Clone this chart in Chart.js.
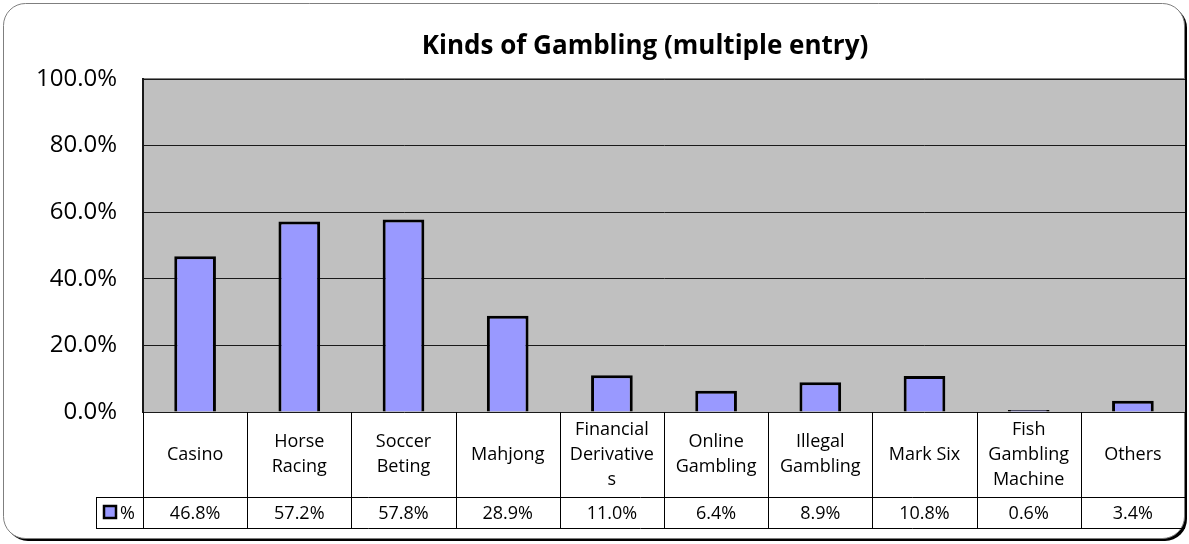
<!DOCTYPE html>
<html>
<head>
<meta charset="utf-8">
<script src="https://cdn.jsdelivr.net/npm/chart.js@4/dist/chart.umd.min.js"></script>
<style>
  html, body { margin: 0; padding: 0; background: #fff; }
  #wrap { width: 1189px; height: 544px; position: relative; }
</style>
</head>
<body>
<div id="wrap"><canvas id="chart"></canvas></div>
<script>
const title = 'Kinds of Gambling (multiple entry)';
const categories = [
  ['Casino'], ['Horse', 'Racing'], ['Soccer', 'Beting'], ['Mahjong'],
  ['Financial', 'Derivative', 's'], ['Online', 'Gambling'], ['Illegal', 'Gambling'],
  ['Mark Six'], ['Fish', 'Gambling', 'Machine'], ['Others']
];
const seriesName = '%';
const values = [46.8, 57.2, 57.8, 28.9, 11.0, 6.4, 8.9, 10.8, 0.6, 3.4];
const yTicks = [0, 20, 40, 60, 80, 100];

const FONT = '"Open Sans", "Noto Sans", sans-serif';
const BAR = '#9999FF';

// frame, plot background and the data table under the plot
const backdrop = {
  id: 'backdrop',
  beforeDraw(chart) {
    const ctx = chart.ctx;
    const a = chart.chartArea;
    ctx.save();
    ctx.fillStyle = '#000';
    ctx.beginPath();
    ctx.roundRect(6, 6, 1181, 535, 22);
    ctx.fill();
    ctx.fillStyle = '#fff';
    ctx.strokeStyle = '#7f7f7f';
    ctx.lineWidth = 1;
    ctx.beginPath();
    ctx.roundRect(3.5, 3.5, 1181, 535, 22);
    ctx.fill();
    ctx.stroke();
    ctx.fillStyle = '#C0C0C0';
    ctx.fillRect(a.left, a.top, a.right - a.left, a.bottom - a.top);
    ctx.strokeStyle = '#808080';
    ctx.lineWidth = 2;
    ctx.beginPath();
    ctx.moveTo(a.left, a.top);
    ctx.lineTo(a.right, a.top);
    ctx.stroke();
    ctx.restore();
  },
  afterDraw(chart) {
    const ctx = chart.ctx;
    const a = chart.chartArea;
    const x = chart.scales.x;
    const n = categories.length;
    const half = (x.getPixelForValue(1) - x.getPixelForValue(0)) / 2;
    const edges = [];
    for (let i = 0; i < n; i++) edges.push(x.getPixelForValue(i) - half);
    edges.push(x.getPixelForValue(n - 1) + half);
    const rowTop = a.bottom, rowMid = 497, rowBot = 528, keyLeft = 96;

    ctx.save();
    // title
    ctx.fillStyle = '#000';
    ctx.font = 'bold 26px ' + FONT;
    ctx.textAlign = 'center';
    ctx.textBaseline = 'middle';
    ctx.fillText(title, 645, 47);

    // table lines
    ctx.strokeStyle = '#000';
    ctx.lineWidth = 1;
    ctx.beginPath();
    for (let i = 0; i < n; i++) {
      const ex = Math.round(edges[i]) + 0.5;
      ctx.moveTo(ex, rowTop);
      ctx.lineTo(ex, rowBot);
    }
    ctx.moveTo(keyLeft, rowMid + 0.5);
    ctx.lineTo(edges[n], rowMid + 0.5);
    ctx.moveTo(keyLeft, rowBot + 0.5);
    ctx.lineTo(edges[n], rowBot + 0.5);
    ctx.moveTo(keyLeft + 0.5, rowMid);
    ctx.lineTo(keyLeft + 0.5, rowBot);
    ctx.stroke();

    // category labels and values
    ctx.font = '18px ' + FONT;
    const lh = 25;
    for (let i = 0; i < n; i++) {
      const cx = x.getPixelForValue(i);
      const lines = categories[i];
      const cy = (rowTop + rowMid) / 2 - (lines.length - 1) * lh / 2;
      lines.forEach((t, k) => ctx.fillText(t, cx, cy + k * lh));
      ctx.fillText(values[i].toFixed(1) + '%', cx, (rowMid + rowBot) / 2 + 1);
    }

    // legend key
    ctx.fillStyle = BAR;
    ctx.fillRect(104, 506, 12, 12);
    ctx.strokeStyle = '#000';
    ctx.lineWidth = 2.5;
    ctx.strokeRect(104, 506, 12, 12);
    ctx.fillStyle = '#000';
    ctx.textAlign = 'left';
    ctx.fillText(seriesName, 120, (rowMid + rowBot) / 2 + 1);
    ctx.restore();
  }
};

new Chart(document.getElementById('chart'), {
  type: 'bar',
  data: {
    labels: categories,
    datasets: [{
      label: seriesName,
      data: values,
      backgroundColor: BAR,
      borderColor: '#000',
      borderWidth: 3,
      barPercentage: 0.4,
      categoryPercentage: 1.0
    }]
  },
  options: {
    responsive: true,
    maintainAspectRatio: false,
    animation: false,
    layout: { padding: { left: 0, right: 4, top: 79, bottom: 132 } },
    plugins: {
      legend: { display: false },
      title: { display: false },
      tooltip: { enabled: false }
    },
    scales: {
      x: {
        display: false
      },
      y: {
        min: 0,
        max: 100,
        afterFit(s) { s.width = 143; },
        afterBuildTicks(s) { s.ticks = yTicks.map(v => ({ value: v })); },
        ticks: {
          color: '#000',
          padding: 26,
          font: { size: 24, family: FONT },
          callback: v => v.toFixed(1) + '%'
        },
        grid: { color: '#1a1a1a', lineWidth: 1, drawTicks: false },
        border: { display: true, color: '#1a1a1a', width: 2 }
      }
    }
  },
  plugins: [backdrop]
});
</script>
</body>
</html>
